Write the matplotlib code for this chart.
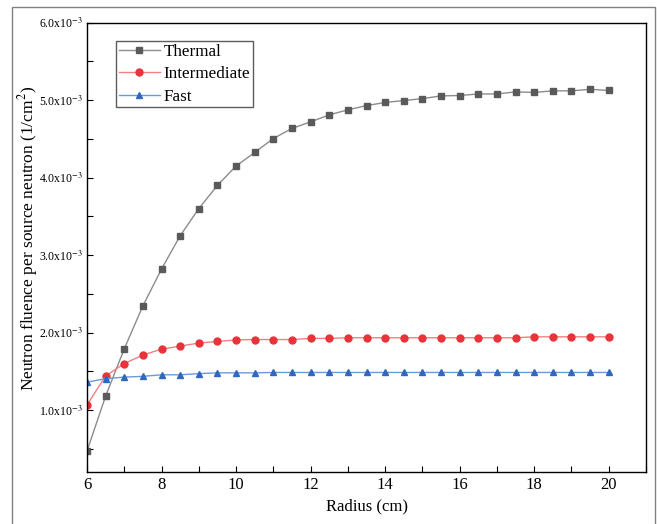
import matplotlib
matplotlib.use("Agg")
import matplotlib.pyplot as plt
from matplotlib.patches import Rectangle
from matplotlib.ticker import MultipleLocator, FuncFormatter
import numpy as np

plt.rcParams["font.family"] = ["Liberation Serif", "DejaVu Serif"]
plt.rcParams["mathtext.fontset"] = "stix"

radius = np.arange(6.0, 20.01, 0.5)
thermal = [0.47, 1.18, 1.79, 2.345, 2.82, 3.25, 3.60, 3.90, 4.15, 4.325, 4.505, 4.635,
           4.72, 4.81, 4.875, 4.93, 4.97, 4.995, 5.02, 5.055, 5.06, 5.08, 5.08, 5.107,
           5.10, 5.12, 5.12, 5.14, 5.125]
intermediate = [1.065, 1.44, 1.60, 1.71, 1.786, 1.825, 1.865, 1.885, 1.905, 1.91, 1.91, 1.91,
                1.925, 1.925, 1.933, 1.933, 1.933, 1.933, 1.933, 1.933, 1.933, 1.933, 1.933,
                1.933, 1.945, 1.945, 1.945, 1.945, 1.945]
fast = [1.36, 1.405, 1.425, 1.435, 1.455, 1.455, 1.47, 1.48, 1.48, 1.48, 1.485, 1.485,
        1.485, 1.485, 1.485, 1.485, 1.485, 1.485, 1.485, 1.485, 1.485, 1.485, 1.485,
        1.485, 1.485, 1.485, 1.485, 1.485, 1.485]
scale = 1e-3

fig = plt.figure(figsize=(6.57, 5.24), dpi=100)
fig.patches.append(Rectangle((0.018, -0.02), 0.979, 1.0066, transform=fig.transFigure,
                             fill=False, edgecolor="#808080", linewidth=1.0))
ax = fig.add_axes([0.1324, 0.0992, 0.8509, 0.8575])

ax.plot(radius, np.array(thermal) * scale, color="#8c8c8c", lw=1.0, marker="s", ms=4.5,
        mfc="#5a5a5a", mec="#5a5a5a", label="Thermal")
ax.plot(radius, np.array(intermediate) * scale, color="#f08080", lw=1.0, marker="o", ms=5,
        mfc="#e8333b", mec="#e8333b", label="Intermediate")
ax.plot(radius, np.array(fast) * scale, color="#6b9ad8", lw=1.0, marker="^", ms=5,
        mfc="#2f68bd", mec="#2f68bd", label="Fast")

ax.set_xlim(6, 21)
ax.set_ylim(0.2e-3, 6.0e-3)
ax.xaxis.set_major_locator(MultipleLocator(2))
ax.xaxis.set_minor_locator(MultipleLocator(1))
ax.yaxis.set_major_locator(MultipleLocator(1e-3))
ax.yaxis.set_minor_locator(MultipleLocator(0.5e-3))
ax.yaxis.set_major_formatter(FuncFormatter(lambda v, p: f"{v / 1e-3:.1f}x10$^{{-3}}$"))
ax.tick_params(which="both", direction="in", length=4, width=0.8, top=False, right=False)
ax.tick_params(axis="x", labelsize=12)
ax.tick_params(axis="y", labelsize=8.5, pad=3)
for s in ax.spines.values():
    s.set_linewidth(1.0)

ax.set_xlabel("Radius (cm)", fontsize=12)
ax.set_ylabel("Neutron fluence per source neutron (1/cm$^2$)", fontsize=12.5)
ax.yaxis.set_label_coords(-0.084, 0.52)

leg = ax.legend(loc="upper left", bbox_to_anchor=(0.052, 0.959), borderaxespad=0,
                fontsize=12.3, frameon=True, fancybox=False, edgecolor="#333333",
                borderpad=0.15, labelspacing=0.38, handlelength=2.4, handletextpad=0.25)
leg.get_frame().set_linewidth(1.0)

fig.savefig("out.png", dpi=100)
